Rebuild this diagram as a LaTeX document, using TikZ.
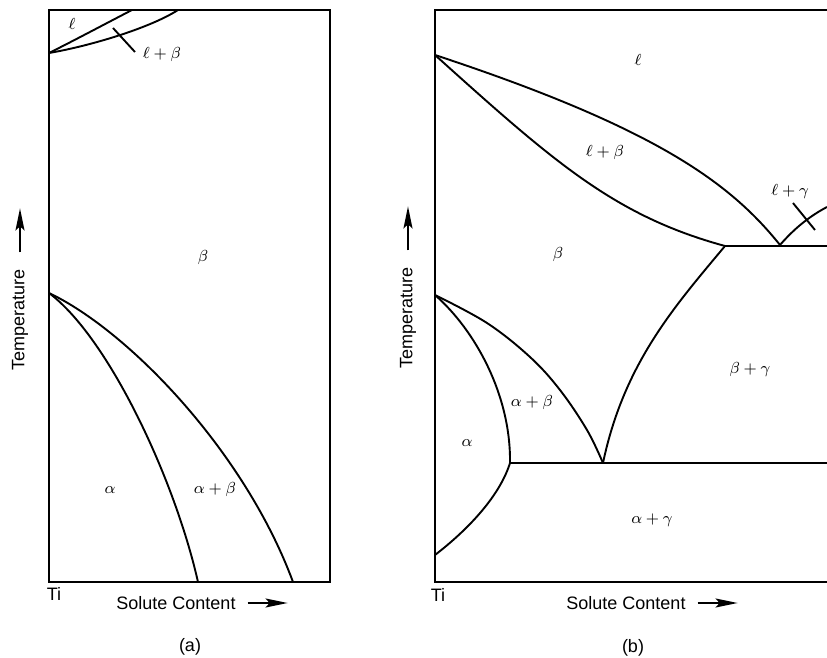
\documentclass[tikz,border=0pt]{standalone}
\usepackage{amsmath, amssymb}
\usepackage{fontspec}
\setmainfont{Liberation Sans}
\usetikzlibrary{arrows.meta}

\begin{document}
\begin{tikzpicture}[x=0.5pt, y=-0.5pt,
    frame/.style={line width=1.1pt},
    phase/.style={line width=0.95pt, line join=round},
    lbl/.style={font=\fontsize{8}{10}\selectfont},
    axtext/.style={font=\fontsize{9}{11}\selectfont},
    axarrow/.style={line width=0.9pt, -{Stealth[length=11pt, width=4.5pt, inset=2pt]}}]
  \useasboundingbox (0,0) rectangle (827,658);

  % (a) Frame
  \draw[frame] (49,10) rectangle (330,582);
  % (a) Liquidus / solidus
  \draw[phase] (49,53) .. controls (75,40) and (105,24) .. (132,10);
  \draw[phase] (49,53) .. controls (90,46) and (150,28) .. (178,10);
  \draw[phase] (113,28) -- (135,52);
  % (a) Solvus lines
  \draw[phase] (49,293) .. controls (109,338) and (175,480) .. (198,582);
  \draw[phase] (49,293) .. controls (129,331) and (245,452) .. (293,582);
  % (a) Labels
  \node[lbl] (liqA) at (72,24) {$\ell$};
  \node[lbl] (liqbetaA) at (162,55) {$\ell + \beta$};
  \node[lbl] (betaA) at (203,258) {$\beta$};
  \node[lbl] (alphaA) at (110,490) {$\alpha$};
  \node[lbl] (alphabetaA) at (215,490) {$\alpha + \beta$};
  \node[axtext] (tiA) at (54,594) {Ti};
  \node[axtext] (soluteA) at (176,603) {Solute Content};
  \draw[axarrow] (soluteA.east) ++(5,0) -- ++(40,0);
  \node[axtext, rotate=90] (tempA) at (20,320) {Temperature};
  \draw[axarrow] (tempA.east) ++(0,-10) -- ++(0,-44);
  \node[axtext] (capA) at (190,647) {(a)};

  % (b) Frame (cut at the right)
  \draw[frame] (827,10) -- (435,10) -- (435,582) -- (827,582);
  % (b) Liquidus / solidus of beta
  \draw[phase] (435,55) .. controls (655,127.6) and (730,182.5) .. (780,245);
  \draw[phase] (435,55) .. controls (555,163) and (615,216) .. (725,246);
  \draw[phase] (780,245) .. controls (793,230) and (808,217) .. (827,207);
  \draw[phase] (793,203) -- (815,230);
  % (b) Eutectic and eutectoid
  \draw[phase] (725,246) -- (827,246);
  \draw[phase] (510,463) -- (827,463);
  \draw[phase] (725,246) .. controls (675,306) and (624,363) .. (603,463);
  \draw[phase] plot[smooth, tension=0.6] coordinates
    {(435,295) (487,323) (530,357) (560,390) (587,430) (603,463)};
  \draw[phase] (435,295) .. controls (475,330) and (511,395) .. (510,463);
  \draw[phase] (510,463) .. controls (500,495) and (470,528) .. (435,555);
  % (b) Labels
  \node[lbl] (liqB) at (638,60) {$\ell$};
  \node[lbl] (liqbetaB) at (605,153) {$\ell + \beta$};
  \node[lbl] (liqgammaB) at (790,192) {$\ell + \gamma$};
  \node[lbl] (betaB) at (558,255) {$\beta$};
  \node[lbl] (betagammaB) at (750,370) {$\beta + \gamma$};
  \node[lbl] (alphabetaB) at (532,403) {$\alpha + \beta$};
  \node[lbl] (alphaB) at (467,443) {$\alpha$};
  \node[lbl] (alphagammaB) at (652,520) {$\alpha + \gamma$};
  \node[axtext] (tiB) at (438,595) {Ti};
  \node[axtext] (soluteB) at (626,603) {Solute Content};
  \draw[axarrow] (soluteB.east) ++(5,0) -- ++(40,0);
  \node[axtext, rotate=90] (tempB) at (408,318) {Temperature};
  \draw[axarrow] (tempB.east) ++(0,-10) -- ++(0,-44);
  \node[axtext] (capB) at (633,648) {(b)};
\end{tikzpicture}
\end{document}
